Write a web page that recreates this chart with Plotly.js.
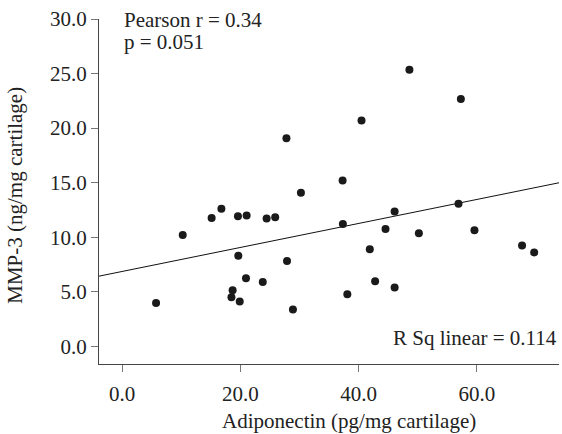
<!DOCTYPE html>
<html>
<head>
<meta charset="utf-8">
<script src="https://cdn.plot.ly/plotly-3.0.1.min.js"></script>
<style>html,body{margin:0;padding:0;background:#fff;}#chart{width:562px;height:434px;}</style>
</head>
<body>
<div id="chart"></div>
<script>
// Adiponectin (pg/mg cartilage)
const adiponectin = [5.75, 10.26, 15.15, 16.8, 19.6, 21.07, 24.45, 25.9, 30.25, 19.66, 27.9, 20.96, 23.8, 18.7, 18.5, 19.9, 28.9,
  27.8, 48.6, 57.3, 40.5, 37.3, 37.35, 46.1, 56.9, 44.56, 50.2, 59.6, 41.9, 67.65, 69.7, 42.8, 46.1, 38.1];
// MMP-3 (ng/mg cartilage)
const mmp3 = [3.97, 10.21, 11.77, 12.6, 11.93, 11.99, 11.71, 11.83, 14.07, 8.29, 7.83, 6.24, 5.9, 5.15, 4.5, 4.1, 3.37,
  19.08, 25.35, 22.66, 20.7, 15.2, 11.22, 12.35, 13.06, 10.76, 10.37, 10.64, 8.9, 9.24, 8.6, 5.96, 5.38, 4.77];
// linear fit
const fitIntercept = 6.86;
const fitSlope = 0.11;
const xTicks = [0, 20, 40, 60];
const xTickLabels = ["0.0", "20.0", "40.0", "60.0"];
const yTicks = [0, 5, 10, 15, 20, 25, 30];
const yTickLabels = ["0.0", "5.0", "10.0", "15.0", "20.0", "25.0", "30.0"];
const xRange = [-3.9, 73.9];
const yRange = [-1.62, 30];
const xTitle = "Adiponectin (pg/mg cartilage)";
const yTitle = "MMP-3 (ng/mg cartilage)";
const statLine1 = "Pearson r = 0.34";
const statLine2 = "p = 0.051";
const rsqText = "R Sq linear = 0.114";

const fitX = xRange.slice();
const fitY = fitX.map(x => fitIntercept + fitSlope * x);

const font = {family: "Liberation Serif, 'Times New Roman', serif", size: 21, color: "#222"};

const traces = [
  {x: fitX, y: fitY, mode: "lines", type: "scatter", line: {color: "#111", width: 1}, hoverinfo: "skip", showlegend: false, cliponaxis: false},
  {x: adiponectin, y: mmp3, mode: "markers", type: "scatter", marker: {color: "#1a1a1a", size: 8}, showlegend: false, cliponaxis: false}
];

const layout = {
  width: 562, height: 434,
  margin: {l: 99, r: 3, t: 19, b: 70, pad: 0},
  paper_bgcolor: "#fff", plot_bgcolor: "#fff",
  font: font,
  showlegend: false,
  xaxis: {
    range: xRange, tickvals: xTicks, ticktext: xTickLabels,
    showgrid: false, zeroline: false, showline: true, linecolor: "#444", linewidth: 1,
    ticks: "outside", ticklen: 7, tickcolor: "#777", tickwidth: 1,
    tickfont: font, ticklabelstandoff: 4,
    automargin: false
  },
  yaxis: {
    range: yRange, tickvals: yTicks, ticktext: yTickLabels,
    showgrid: false, zeroline: false, showline: true, linecolor: "#444", linewidth: 1,
    ticks: "outside", ticklen: 7, tickcolor: "#777", tickwidth: 1,
    tickfont: font,
    automargin: false
  },
  annotations: [
    {x: 0, y: 29.9, xref: "x", yref: "y", text: statLine1, showarrow: false, xanchor: "left", yanchor: "middle", font: font},
    {x: 0, y: 27.9, xref: "x", yref: "y", text: statLine2, showarrow: false, xanchor: "left", yanchor: "middle", font: font},
    {x: 1, y: 0.78, xref: "paper", yref: "y", text: rsqText, showarrow: false, xanchor: "right", yanchor: "middle", font: font},
    {x: 0.543, y: -0.166, xref: "paper", yref: "paper", text: xTitle, showarrow: false, xanchor: "center", yanchor: "middle", font: font},
    {x: -0.183, y: 0.49, xref: "paper", yref: "paper", text: yTitle, textangle: -90, showarrow: false, xanchor: "center", yanchor: "middle", font: font}
  ]
};

Plotly.newPlot("chart", traces, layout, {displayModeBar: false, staticPlot: true});
</script>
</body>
</html>
